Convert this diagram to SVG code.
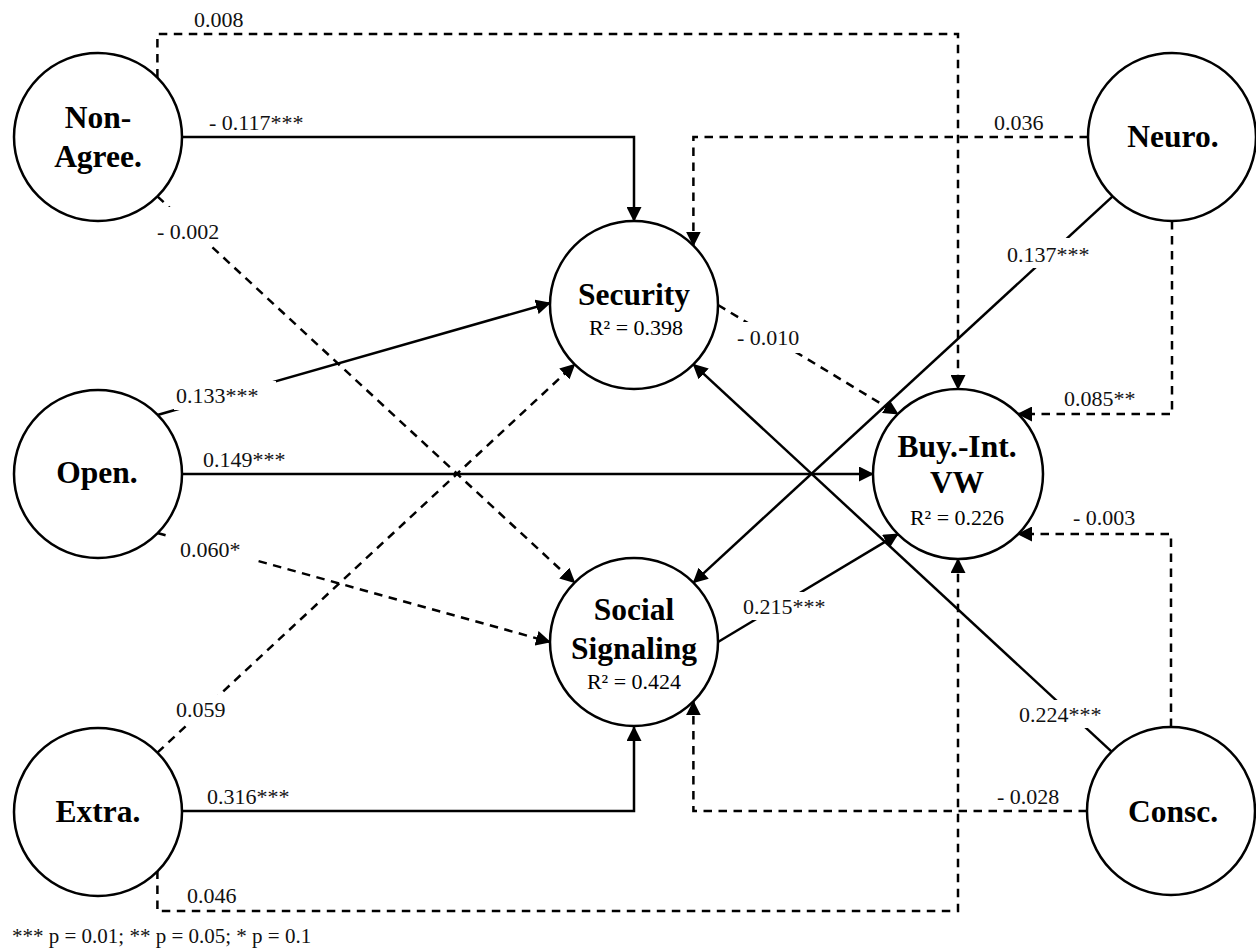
<svg xmlns="http://www.w3.org/2000/svg" width="1256" height="949" viewBox="0 0 1256 949">
  <defs>
    <marker id="arrow" markerWidth="15" markerHeight="15" refX="14" refY="7.5" orient="auto" markerUnits="userSpaceOnUse">
      <path d="M0,0 L15,7.5 L0,15 z" fill="#000"/>
    </marker>
    <style>
      .edge { fill: none; stroke: #000; stroke-width: 2.5; marker-end: url(#arrow); }
      .dash { stroke-dasharray: 8.5 6.5; }
      .node circle { fill: #fff; stroke: #000; stroke-width: 2.5; }
      .name { font-family: "Liberation Serif", "Times New Roman", serif; font-weight: bold; font-size: 31.5px; text-anchor: middle; fill: #000; }
      .r2 { font-family: "Liberation Serif", "Times New Roman", serif; font-size: 22px; text-anchor: middle; fill: #000; }
      .lbl { font-family: "Liberation Serif", "Times New Roman", serif; font-size: 22px; fill: #111; }
      .bg { fill: #fff; }
      .note { font-family: "Liberation Serif", "Times New Roman", serif; font-size: 21px; fill: #111; }
    </style>
  </defs>

  <rect width="1256" height="949" fill="#fff"/>

  <!-- paths between constructs -->
  <g id="connectors">
    <path class="edge" d="M182,137 H634 V221"/>
    <path class="edge dash" d="M157.4,77.6 V34 H958 V389"/>
    <path class="edge dash" d="M157.4,196.4 L574.6,582.6"/>
    <path class="edge" d="M157.4,415 L550,303"/>
    <path class="edge" d="M182,474 H873"/>
    <path class="edge dash" d="M157.4,533 L550,642"/>
    <path class="edge" d="M182,811 H634 V727"/>
    <path class="edge dash" d="M157.4,752.6 L574.6,364.4"/>
    <path class="edge dash" d="M157.4,870.4 V911 H958 V559"/>
    <path class="edge dash" d="M1088,137 H693.4 V245.6"/>
    <path class="edge" d="M1112.6,196.4 L693.4,582.6"/>
    <path class="edge dash" d="M1172,221 V414 H1018"/>
    <path class="edge dash" d="M718,305 L897.9,413.9"/>
    <path class="edge" d="M718,642 L897.9,534.1"/>
    <path class="edge" d="M1111.6,751.6 L693.4,364.4"/>
    <path class="edge dash" d="M1171,727 V534 H1018"/>
    <path class="edge dash" d="M1087,811 H693.4 V701.4"/>
  </g>

  <!-- path coefficients -->
  <g id="edge-labels">
    <rect class="bg" x="174" y="381" width="102" height="29"/>
    <rect class="bg" x="168" y="535" width="86" height="27"/>
    <rect class="bg" x="175" y="695" width="56" height="28"/>
    <rect class="bg" x="156" y="207" width="70" height="39"/>
    <rect class="bg" x="736" y="322" width="69" height="31"/>
    <rect class="bg" x="742" y="592" width="89" height="28"/>
    <rect class="bg" x="1006" y="238" width="90" height="30"/>
    <rect class="bg" x="1018" y="700" width="90" height="28"/>

    <text class="lbl" x="194" y="27">0.008</text>
    <text class="lbl" x="209" y="130">- 0.117***</text>
    <text class="lbl" x="157" y="239">- 0.002</text>
    <text class="lbl" x="994" y="130">0.036</text>
    <text class="lbl" x="1007" y="262">0.137***</text>
    <text class="lbl" x="737" y="345">- 0.010</text>
    <text class="lbl" x="176" y="403">0.133***</text>
    <text class="lbl" x="1064" y="406">0.085**</text>
    <text class="lbl" x="203" y="467">0.149***</text>
    <text class="lbl" x="1073" y="525">- 0.003</text>
    <text class="lbl" x="180" y="557">0.060*</text>
    <text class="lbl" x="743" y="614">0.215***</text>
    <text class="lbl" x="176" y="717">0.059</text>
    <text class="lbl" x="1019" y="722">0.224***</text>
    <text class="lbl" x="207" y="804">0.316***</text>
    <text class="lbl" x="997" y="804">- 0.028</text>
    <text class="lbl" x="187" y="903">0.046</text>
  </g>

  <g id="non-agree" class="node">
    <circle cx="98" cy="137" r="84"/>
    <text class="name" x="98" y="128">Non-</text>
    <text class="name" x="98" y="167">Agree.</text>
  </g>

  <g id="open" class="node">
    <circle cx="98" cy="474" r="84"/>
    <text class="name" x="97" y="483">Open.</text>
  </g>

  <g id="extra" class="node">
    <circle cx="98" cy="812" r="84"/>
    <text class="name" x="98" y="822">Extra.</text>
  </g>

  <g id="neuro" class="node">
    <circle cx="1172" cy="137" r="84"/>
    <text class="name" x="1173" y="147">Neuro.</text>
  </g>

  <g id="consc" class="node">
    <circle cx="1171" cy="811" r="84"/>
    <text class="name" x="1173" y="822">Consc.</text>
  </g>

  <g id="security" class="node">
    <circle cx="634" cy="305" r="84"/>
    <text class="name" x="634" y="305">Security</text>
    <text class="r2" x="636" y="335">R² = 0.398</text>
  </g>

  <g id="social-signaling" class="node">
    <circle cx="634" cy="642" r="84"/>
    <text class="name" x="634" y="620">Social</text>
    <text class="name" x="634" y="659">Signaling</text>
    <text class="r2" x="634" y="689">R² = 0.424</text>
  </g>

  <g id="buying-intention" class="node">
    <circle cx="958" cy="474" r="85"/>
    <text class="name" x="957" y="457">Buy.-Int.</text>
    <text class="name" x="957" y="493">VW</text>
    <text class="r2" x="957" y="525">R² = 0.226</text>
  </g>

  <text class="note" x="12" y="943">*** p = 0.01; ** p = 0.05; * p = 0.1</text>
</svg>
